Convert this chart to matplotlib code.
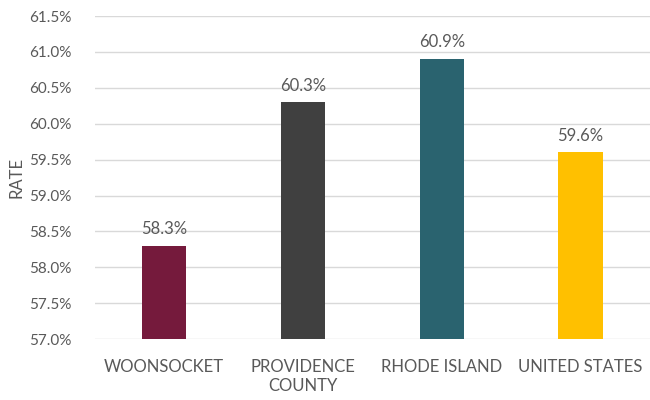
import matplotlib.pyplot as plt
from matplotlib.ticker import FuncFormatter

# data
places = ["WOONSOCKET", "PROVIDENCE\nCOUNTY", "RHODE ISLAND", "UNITED STATES"]
rates = [58.3, 60.3, 60.9, 59.6]
colors = ["#751A3C", "#404040", "#2A636F", "#FFC000"]

plt.rcParams['font.family'] = ['Lato', 'DejaVu Sans']
grey = "#595959"

fig = plt.figure(figsize=(6.5, 4), dpi=100)
ax = fig.add_axes([0.146, 0.152, 0.854, 0.808])

x = range(len(places))
bars = ax.bar(x, rates, width=0.32, color=colors, zorder=3)
for b, r in zip(bars, rates):
    ax.text(b.get_x() + b.get_width() / 2, r + 0.12, f"{r:.1f}%",
            ha="center", va="bottom", fontsize=12, color=grey)

ax.set_xlim(-0.5, len(places) - 0.5)
ax.set_ylim(57.0, 61.5)
ax.set_yticks([57.0 + 0.5 * i for i in range(10)])
ax.yaxis.set_major_formatter(FuncFormatter(lambda v, p: f"{v:.1f}%"))
ax.set_xticks(list(x))
ax.set_xticklabels(places, fontsize=12, color=grey, linespacing=1.25)
ax.tick_params(axis="y", labelsize=11, labelcolor=grey, length=0, pad=17)
ax.tick_params(axis="x", length=0, pad=14)
ax.set_ylabel("RATE", fontsize=12, color=grey, labelpad=3)

ax.grid(axis="y", color="#D9D9D9", linewidth=1, zorder=0)
for s in ax.spines.values():
    s.set_visible(False)

fig.savefig("out.png", dpi=100)
